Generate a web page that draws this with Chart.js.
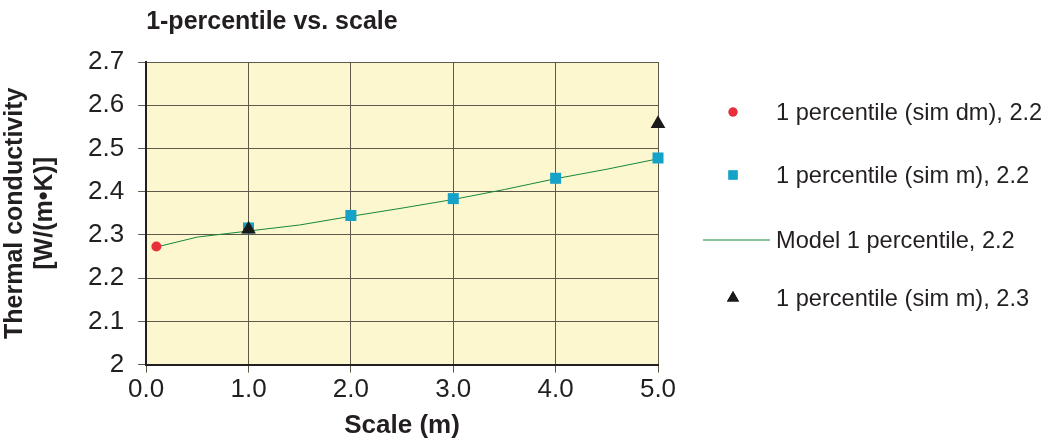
<!DOCTYPE html>
<html>
<head>
<meta charset="utf-8">
<script src="https://cdn.jsdelivr.net/npm/chart.js@4.4.0/dist/chart.umd.min.js"></script>
<style>
  html, body { margin: 0; padding: 0; background: #fff; }
  #wrap { width: 1051px; height: 441px; }
</style>
</head>
<body>
<div id="wrap"><canvas id="chart" width="1051" height="441"></canvas></div>
<script>
const xTicks = [0, 1, 2, 3, 4, 5];
const xTickLabels = ["0.0", "1.0", "2.0", "3.0", "4.0", "5.0"];
const yTicks = [2, 2.1, 2.2, 2.3, 2.4, 2.5, 2.6, 2.7];
const yTickLabels = ["2", "2.1", "2.2", "2.3", "2.4", "2.5", "2.6", "2.7"];

const simDmX = [0.1];
const simDmY = [2.273];
const simMX = [1, 2, 3, 4, 5];
const simMY = [2.316, 2.345, 2.384, 2.431, 2.478];
const modelX = [0.1, 0.5, 1, 1.5, 2, 2.5, 3, 3.5, 4, 4.5, 5];
const modelY = [2.272, 2.295, 2.309, 2.323, 2.343, 2.362, 2.382, 2.405, 2.43, 2.452, 2.476];
const simM23X = [1, 5];
const simM23Y = [2.313, 2.557];

const seriesNames = [
  "1 percentile (sim dm), 2.2",
  "1 percentile (sim m), 2.2",
  "Model 1 percentile, 2.2",
  "1 percentile (sim m), 2.3"
];

const FONT = "'Liberation Sans', Arial, Helvetica, sans-serif";
const toPts = (xs, ys) => xs.map((x, i) => ({ x: x, y: ys[i] }));

// fond jaune de la zone de tracé
const plotBg = {
  id: "plotBg",
  beforeDraw(chart) {
    const a = chart.chartArea;
    const ctx = chart.ctx;
    ctx.save();
    ctx.fillStyle = "#fdf7cf";
    ctx.fillRect(a.left, a.top, a.right - a.left, a.bottom - a.top);
    ctx.restore();
  }
};

// légende à droite, dessinée à la main
const sideLegend = {
  id: "sideLegend",
  afterDraw(chart) {
    const ctx = chart.ctx;
    const a = chart.chartArea;
    const markX = a.right + 75;
    const textX = a.right + 118;
    const rowsY = [112, 175, 240, 298];
    ctx.save();
    ctx.font = "23.6px " + FONT;
    ctx.textBaseline = "middle";
    chart.data.datasets.forEach((ds, i) => {
      const y = rowsY[i];
      if (ds.showLine) {
        ctx.strokeStyle = ds.borderColor;
        ctx.lineWidth = 1;
        ctx.beginPath();
        ctx.moveTo(a.right + 45, y);
        ctx.lineTo(a.right + 112, y);
        ctx.stroke();
      } else {
        ctx.fillStyle = ds.backgroundColor;
        Chart.helpers.drawPoint(ctx, {
          pointStyle: ds.pointStyle,
          radius: ds.legendRadius,
          rotation: 0,
          borderWidth: 0
        }, markX, y);
        ctx.fill();
      }
      ctx.fillStyle = "#231f20";
      ctx.fillText(ds.label, textX, y + 1);
    });
    ctx.restore();
  }
};

new Chart(document.getElementById("chart"), {
  type: "scatter",
  data: {
    datasets: [
      {
        label: seriesNames[0],
        data: toPts(simDmX, simDmY),
        pointStyle: "circle",
        pointRadius: 5,
        legendRadius: 4.5,
        backgroundColor: "#e8303a",
        borderWidth: 0,
        showLine: false,
        clip: false,
        order: 1
      },
      {
        label: seriesNames[1],
        data: toPts(simMX, simMY),
        pointStyle: "rect",
        pointRadius: 7.8,
        legendRadius: 6.5,
        backgroundColor: "#16a2c8",
        borderWidth: 0,
        showLine: false,
        clip: false,
        order: 2
      },
      {
        label: seriesNames[2],
        data: toPts(modelX, modelY),
        showLine: true,
        borderColor: "#16873a",
        backgroundColor: "#16873a",
        borderWidth: 1,
        pointRadius: 0,
        tension: 0,
        order: 3
      },
      {
        label: seriesNames[3],
        data: toPts(simM23X, simM23Y),
        pointStyle: "triangle",
        pointRadius: 8.5,
        legendRadius: 7,
        backgroundColor: "#1a1a1a",
        borderWidth: 0,
        showLine: false,
        clip: false,
        order: 0
      }
    ]
  },
  options: {
    responsive: false,
    animation: false,
    layout: { padding: { left: 0, right: 393, top: 0, bottom: 0 } },
    plugins: {
      legend: { display: false },
      tooltip: { enabled: false },
      title: {
        display: true,
        text: "1-percentile vs. scale",
        align: "start",
        fullSize: false,
        color: "#231f20",
        font: { family: FONT, size: 25, weight: "bold", lineHeight: 1.2 },
        padding: { top: 7, bottom: 25 }
      }
    },
    scales: {
      x: {
        type: "linear",
        min: 0,
        max: 5,
        afterBuildTicks: (s) => { s.ticks = xTicks.map((v) => ({ value: v })); },
        ticks: {
          callback: (v) => xTickLabels[xTicks.indexOf(v)],
          color: "#231f20",
          font: { family: FONT, size: 26 },
          padding: 2,
          maxRotation: 0
        },
        grid: { color: "#5e5a4a", lineWidth: 1, tickLength: 8 },
        border: { color: "#231f20", width: 2 },
        title: {
          display: true,
          text: "Scale (m)",
          color: "#231f20",
          font: { family: FONT, size: 26, weight: "bold", lineHeight: 1.2 },
          padding: { top: 2, bottom: 0 }
        }
      },
      y: {
        type: "linear",
        min: 2,
        max: 2.7,
        afterBuildTicks: (s) => { s.ticks = yTicks.map((v) => ({ value: v })); },
        ticks: {
          callback: (v) => yTickLabels[yTicks.findIndex((t) => Math.abs(t - v) < 1e-6)],
          color: "#231f20",
          font: { family: FONT, size: 26 },
          padding: 14
        },
        grid: { color: "#5e5a4a", lineWidth: 1, tickLength: 8 },
        border: { color: "#231f20", width: 2 },
        title: {
          display: true,
          text: ["Thermal conductivity", "[W/(m\u2022K)]"],
          color: "#231f20",
          font: { family: FONT, size: 25, weight: "bold", lineHeight: 1.2 },
          padding: { top: 0, bottom: 14 }
        }
      }
    }
  },
  plugins: [plotBg, sideLegend]
});
</script>
</body>
</html>
